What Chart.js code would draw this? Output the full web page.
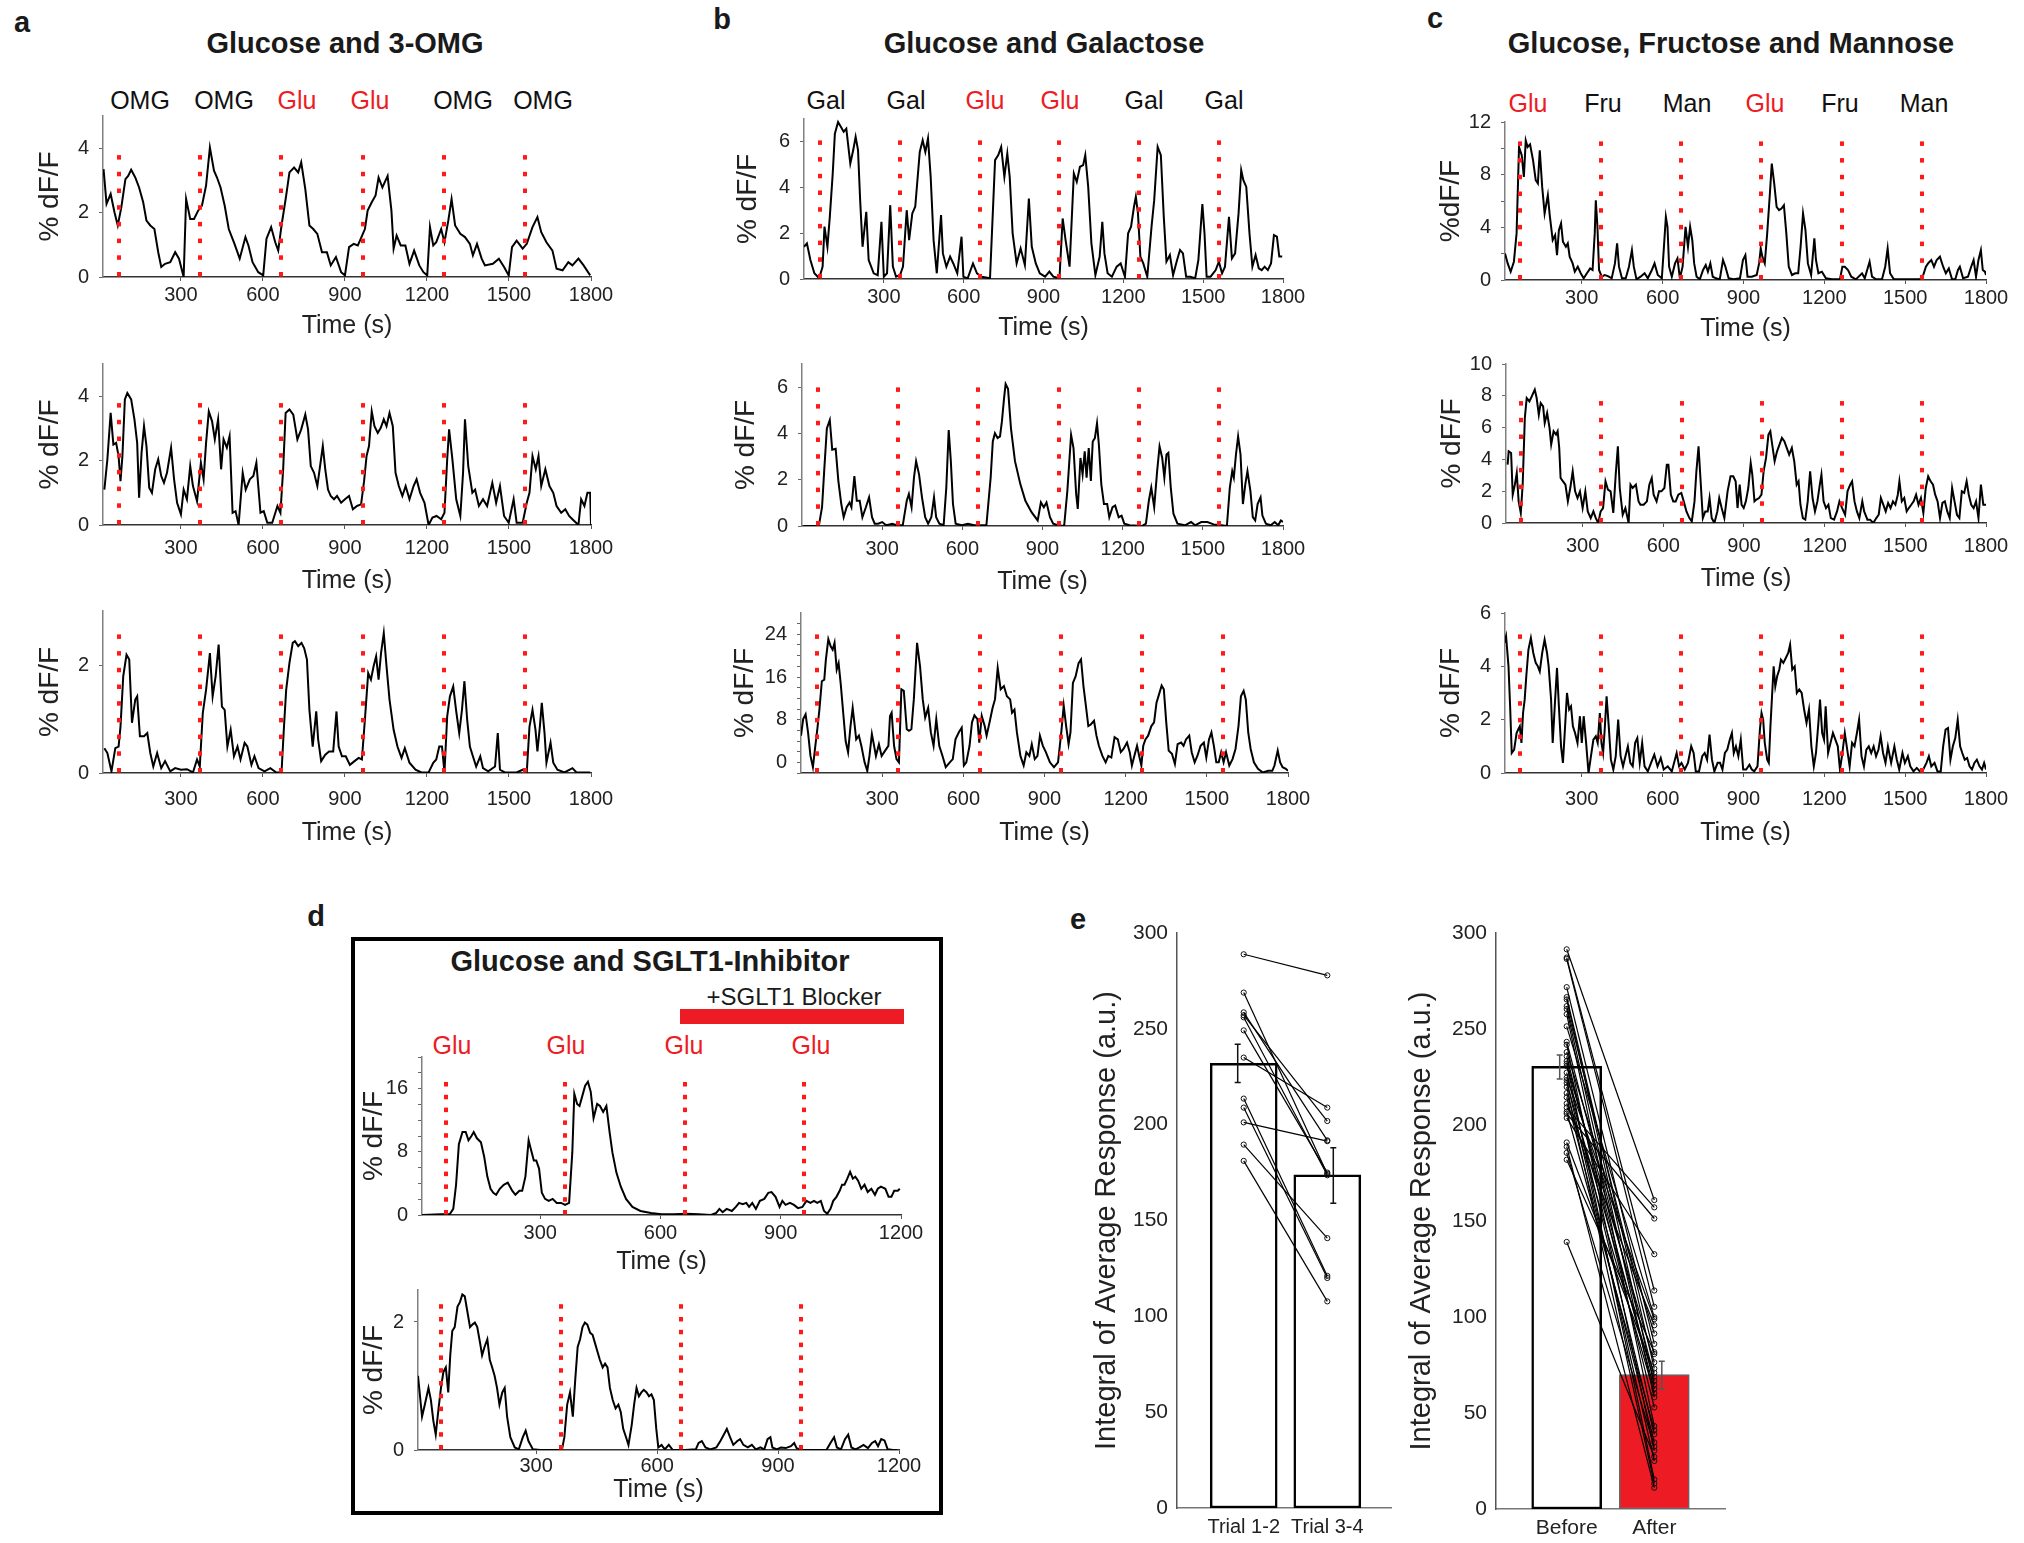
<!DOCTYPE html>
<html>
<head>
<meta charset="utf-8">
<title>Sugar responses</title>
<script src="https://cdn.jsdelivr.net/npm/chart.js@4.4.0/dist/chart.umd.min.js"></script>
<style>
  html, body { margin: 0; padding: 0; background: #fff; }
  body { position: relative; width: 2024px; height: 1543px; overflow: hidden;
         font-family: 'Liberation Sans', Arial, Helvetica, sans-serif; color: #1a1a1a; }
  canvas { position: absolute; }
  .txt { position: absolute; transform: translate(-50%, -50%); white-space: nowrap; line-height: 1; }
  .frame { position: absolute; border: 4px solid #000; box-sizing: border-box; }
  .blocker { position: absolute; background: #ed1c24; }
</style>
</head>
<body>
<div class="frame" style="left:351px;top:937px;width:592px;height:578px"></div>
<div class="blocker" style="left:680px;top:1009px;width:224px;height:15px"></div>
<script>
// ---------- data ----------
const aStim = [72, 370, 667, 965, 1262, 1560];
const bStim = [60, 360, 660, 960, 1260, 1560];
const cStim = [72, 370, 668, 966, 1264, 1562];
const dStim = [64, 362, 660, 958];
const aStimLabels = ['OMG', 'OMG', 'Glu', 'Glu', 'OMG', 'OMG'];
const bStimLabels = ['Gal', 'Gal', 'Glu', 'Glu', 'Gal', 'Gal'];
const cStimLabels = ['Glu', 'Fru', 'Man', 'Glu', 'Fru', 'Man'];
const dStimLabels = ['Glu', 'Glu', 'Glu', 'Glu'];
const timeTicksLong = [300, 600, 900, 1200, 1500, 1800];
const timeTicksShort = [300, 600, 900, 1200];

// traces: [time (s), % dF/F]
const traceA1 = [[17,3.35],[28,2.27],[43,2.58],[57,2.01],[69,1.6],[82,2.16],[97,3.04],[107,3.14],[118,3.33],[133,3.09],[147,2.78],[162,2.32],[174,1.75],[188,1.6],[203,1.49],[217,0.77],[228,0.31],[242,0.41],[261,0.46],[279,0.77],[293,0.57],[310,0],[319,2.42],[334,1.8],[348,1.8],[363,2.06],[377,2.22],[392,2.84],[406,4.02],[421,3.3],[432,3.09],[445,2.78],[460,2.22],[475,1.49],[496,1.03],[515,0.57],[536,1.24],[547,0.98],[562,0.46],[583,0.15],[601,0.05],[613,1.19],[630,1.55],[645,1.08],[656,0.82],[668,1.6],[685,2.53],[697,3.25],[714,3.4],[729,3.25],[740,3.56],[755,2.73],[770,1.6],[784,1.49],[799,1.34],[816,0.77],[834,0.77],[848,0.36],[867,0.62],[886,0.15],[900,0.05],[915,0.93],[932,1.03],[947,0.98],[958,1.19],[973,1.49],[983,2.06],[998,2.32],[1012,2.53],[1023,3.09],[1037,2.78],[1056,3.14],[1070,2.06],[1078,0.88],[1089,1.29],[1104,0.98],[1121,0.98],[1136,0.41],[1153,0.82],[1172,0.36],[1187,0.15],[1201,0.05],[1211,1.55],[1223,0.98],[1234,1.08],[1252,1.49],[1264,1.08],[1278,1.75],[1290,2.42],[1303,1.6],[1322,1.34],[1339,1.24],[1357,1.03],[1368,0.67],[1383,1.03],[1400,0.57],[1412,0.36],[1441,0.41],[1463,0.57],[1482,0.31],[1499,0.05],[1511,0.93],[1528,1.13],[1550,0.88],[1565,1.03],[1586,1.55],[1604,1.86],[1618,1.39],[1637,1.08],[1659,0.82],[1674,0.26],[1696,0.21],[1717,0.46],[1732,0.36],[1754,0.57],[1773,0.36],[1797,0.05]];
const traceA2 = [[20,1.1],[31,2.04],[43,3.48],[53,2.5],[63,2.55],[72,2.14],[79,1.36],[86,2.14],[95,3.9],[104,4.1],[118,3.9],[130,3.28],[140,2.55],[147,0.85],[156,2.24],[165,3.07],[174,2.45],[184,1.16],[194,1.0],[206,1.73],[217,2.04],[228,1.52],[238,1.31],[249,1.62],[264,2.4],[275,1.42],[286,0.69],[300,0.33],[310,1.1],[322,0.8],[334,1.83],[344,1.21],[359,0.74],[373,1.93],[383,1.42],[392,2.55],[402,3.53],[414,3.22],[424,2.66],[436,3.28],[447,1.73],[456,2.66],[468,2.4],[478,2.76],[489,0.38],[500,0.43],[511,0],[526,1.62],[537,1.1],[552,1.42],[565,1.52],[576,1.93],[591,0.38],[603,0.43],[616,0.07],[634,0.07],[653,0.59],[664,0.38],[674,1.73],[683,3.48],[697,3.59],[711,3.43],[726,2.66],[740,2.97],[755,3.43],[765,2.97],[775,1.83],[787,1.62],[799,1.21],[809,1.83],[819,2.45],[828,1.73],[838,1.1],[848,0.9],[860,0.8],[871,0.9],[886,0.69],[900,0.8],[915,0.9],[929,0.49],[944,0.59],[959,0.64],[970,1.36],[979,2.14],[988,2.45],[998,3.53],[1008,3.07],[1020,2.86],[1031,3.02],[1042,3.28],[1052,3.07],[1063,3.48],[1075,3.07],[1085,1.62],[1097,1.21],[1110,0.9],[1122,1.21],[1136,0.8],[1151,1.21],[1162,1.42],[1175,1.0],[1191,0.69],[1206,0],[1220,0.23],[1235,0.28],[1252,0.18],[1264,0.38],[1274,2.04],[1281,2.97],[1293,2.04],[1307,0.8],[1322,0.28],[1332,1.62],[1339,3.28],[1351,1.83],[1366,1.0],[1376,1.1],[1390,0.59],[1405,0.8],[1420,0.59],[1439,1.31],[1453,0.69],[1467,1.21],[1482,0.28],[1499,0.07],[1517,0.8],[1528,0.07],[1550,0.07],[1565,0.69],[1575,1.0],[1586,2.14],[1598,1.73],[1608,2.14],[1618,1.21],[1633,1.73],[1648,1.21],[1662,1.0],[1674,0.59],[1691,0.38],[1706,0.49],[1720,0.28],[1732,0.18],[1754,0],[1764,0.8],[1776,0.59],[1787,1.0],[1797,1.0],[1800,0]];
const traceA3 = [[20,0.46],[31,0.37],[46,0.03],[60,0.46],[72,0.49],[79,0.86],[89,1.79],[101,2.19],[111,2.1],[121,0.93],[133,1.36],[140,1.42],[150,0.68],[165,0.68],[177,0.74],[188,0.37],[199,0.12],[213,0.37],[228,0.09],[242,0.22],[261,0.03],[279,0.09],[300,0.06],[322,0.07],[344,0.01],[359,0.25],[369,0.12],[380,1.11],[392,1.54],[406,2.22],[416,1.42],[427,1.79],[438,2.38],[450,1.23],[460,1.17],[470,0.49],[482,0.8],[494,0.31],[507,0.49],[518,0.25],[533,0.56],[543,0.49],[558,0.15],[569,0.31],[584,0.09],[606,0.03],[627,0.09],[649,0.01],[668,0.01],[677,0.86],[685,1.54],[697,2.04],[709,2.41],[717,2.44],[729,2.35],[741,2.41],[751,2.31],[761,2.1],[770,1.17],[782,0.49],[795,1.14],[802,0.62],[813,0.22],[828,0.34],[842,0.4],[857,0.4],[869,1.14],[877,0.49],[889,0.31],[903,0.31],[918,0.15],[935,0.22],[950,0.28],[962,0.25],[973,0.99],[985,1.85],[995,1.73],[1005,1.98],[1014,2.16],[1023,1.73],[1032,2.22],[1042,2.59],[1052,1.98],[1063,1.36],[1078,0.8],[1092,0.49],[1107,0.28],[1119,0.46],[1136,0.19],[1158,0.06],[1180,0.01],[1206,0.01],[1223,0.19],[1234,0.25],[1245,0.49],[1255,0.49],[1264,0.01],[1274,1.05],[1284,1.42],[1296,1.6],[1307,1.14],[1318,0.74],[1328,1.17],[1337,1.7],[1347,0.99],[1357,0.49],[1368,0.31],[1380,0.12],[1395,0.31],[1405,0.09],[1424,0.03],[1449,0.12],[1459,0.74],[1467,0.06],[1485,0.01],[1528,0.01],[1550,0.06],[1565,0.01],[1575,0.86],[1586,1.17],[1597,0.8],[1604,0.4],[1613,0.86],[1620,1.3],[1630,0.74],[1637,0.19],[1652,0.56],[1662,0.19],[1677,0.06],[1703,0.01],[1732,0.09],[1747,0.01],[1797,0.01]];
const traceB1 = [[0,1.41],[11,1.56],[24,0.83],[39,0.25],[57,0.03],[70,0.54],[77,2.29],[88,1.41],[97,2.72],[108,4.62],[116,6.36],[128,6.87],[139,6.65],[149,6.44],[159,6.58],[174,5.05],[185,5.64],[194,6.22],[203,5.64],[211,3.45],[220,1.41],[234,2.94],[243,0.83],[262,0.25],[277,0.17],[291,2.5],[300,0.1],[312,0.25],[324,3.23],[334,0.54],[346,0.1],[361,0.17],[372,0.54],[386,3.01],[395,1.7],[407,2.87],[418,3.16],[435,5.56],[446,6.07],[456,5.56],[466,6.15],[476,4.47],[487,1.7],[499,0.25],[515,2.8],[522,1.12],[535,0.54],[549,0.98],[561,0.68],[576,0.25],[592,1.85],[599,0.1],[615,0.03],[635,0.68],[650,0.25],[668,0.1],[699,0.03],[718,5.2],[730,5.42],[741,5.78],[753,4.47],[764,5.49],[773,4.47],[784,2.0],[799,0.68],[814,1.34],[830,0.61],[845,3.52],[856,1.41],[871,0.68],[886,0.25],[906,0.1],[922,0.32],[937,0.1],[960,0.03],[972,2.65],[983,1.7],[998,0.54],[1014,4.62],[1025,4.25],[1037,4.91],[1049,4.98],[1057,5.42],[1068,4.03],[1080,1.56],[1095,0.17],[1111,0.98],[1121,2.5],[1129,1.12],[1141,0.25],[1157,0.1],[1175,0.54],[1190,0.68],[1206,0.1],[1218,2.0],[1229,2.29],[1240,3.16],[1247,3.6],[1255,2.87],[1264,0.98],[1275,0.68],[1290,0.1],[1306,2.29],[1316,3.45],[1329,5.78],[1341,5.42],[1352,2.72],[1362,0.76],[1375,1.05],[1387,0.17],[1402,0.83],[1413,1.27],[1424,1.12],[1436,0.1],[1451,0.1],[1470,0.03],[1482,0.83],[1497,3.28],[1505,2.0],[1513,0.1],[1528,0.1],[1547,0.39],[1559,0.76],[1571,0.25],[1582,0.54],[1597,2.72],[1608,0.9],[1620,1.12],[1633,2.87],[1643,4.76],[1651,4.32],[1662,4.03],[1674,2.0],[1685,0.54],[1697,1.05],[1709,0.47],[1720,0.39],[1731,0.54],[1743,0.39],[1755,0.68],[1766,1.92],[1777,1.85],[1786,0.98],[1797,0.98]];
const traceB2 = [[6,0],[63,0],[75,0.81],[83,2.37],[93,4.22],[104,4.58],[113,3.3],[126,3.34],[136,1.95],[147,0.95],[156,0.38],[167,0.81],[178,1.02],[185,0.81],[196,2.16],[205,1.09],[216,1.09],[226,0.38],[239,0.81],[251,1.24],[262,0.38],[272,0.1],[285,0.1],[300,0.17],[315,0.03],[338,0.1],[354,0.03],[377,0.03],[392,1.09],[400,1.38],[410,0.81],[419,2.09],[427,2.8],[438,2.23],[449,1.24],[461,0.38],[472,0.1],[484,0.38],[494,1.24],[502,0.38],[514,0.1],[530,0.03],[540,1.66],[549,4.15],[557,2.8],[565,0.95],[575,0.1],[598,0.03],[621,0.1],[644,0.03],[690,0.03],[706,2.09],[714,3.65],[722,4.01],[732,3.8],[741,3.87],[748,4.51],[756,5.5],[762,6.14],[771,5.93],[782,4.22],[797,2.8],[817,1.81],[836,1.09],[859,0.6],[882,0.24],[894,1.02],[905,0.81],[915,1.02],[928,0.38],[940,0.1],[958,0.03],[981,0],[993,1.52],[1007,3.94],[1016,3.37],[1026,1.38],[1032,0.74],[1042,2.94],[1050,2.23],[1058,3.23],[1065,2.09],[1073,3.37],[1081,1.95],[1088,3.65],[1096,3.8],[1104,4.44],[1111,3.51],[1120,1.81],[1130,0.95],[1142,0.95],[1150,0.38],[1162,0.81],[1172,0.88],[1185,0.38],[1196,0.45],[1206,0.1],[1226,0.03],[1272,0],[1287,0.1],[1298,1.09],[1307,1.66],[1318,0.81],[1329,2.37],[1338,3.44],[1348,2.94],[1356,2.09],[1364,3.09],[1371,3.16],[1380,1.66],[1390,0.53],[1405,0.1],[1433,0.03],[1456,0.17],[1471,0.03],[1494,0.17],[1517,0.17],[1540,0.07],[1570,0.03],[1590,0],[1601,1.66],[1610,2.37],[1616,2.09],[1624,3.09],[1632,3.87],[1641,3.09],[1650,0.95],[1659,1.81],[1667,2.37],[1678,1.52],[1687,0.38],[1696,0.24],[1705,0.95],[1716,1.24],[1723,0.45],[1736,0.1],[1754,0.03],[1769,0.17],[1782,0.03],[1792,0.24],[1800,0.17]];
const traceB3 = [[0,5],[8,8.1],[17,9],[26,5.6],[35,1.2],[44,-0.9],[53,3.1],[61,6.5],[68,9.9],[77,15.2],[86,15.5],[92,19.3],[101,23.1],[110,21.7],[117,21.1],[124,22.4],[132,17.4],[139,18.6],[147,14.6],[156,9.3],[165,4],[174,1.9],[183,6.8],[191,10.2],[198,7.1],[204,4.3],[214,5],[223,3.1],[235,0],[245,-1.6],[253,1.2],[262,5.3],[268,3.7],[277,1.2],[288,3.4],[298,1.2],[311,2.2],[323,3.1],[329,8.7],[335,9.3],[344,3.1],[353,0.6],[362,0],[371,13.7],[380,13.4],[391,6.2],[399,5.9],[408,6.2],[417,11.8],[429,22.4],[440,18],[450,11.8],[459,8.4],[470,10.2],[480,5.6],[490,3.1],[500,8.1],[511,3.1],[523,1.2],[535,-0.9],[550,0],[561,0.6],[571,4.3],[583,5.6],[594,6.5],[602,-0.6],[611,0],[623,3.1],[632,7.5],[641,8.8],[652,8.1],[659,3.7],[668,8.7],[679,6.8],[686,5],[697,7.5],[708,10.2],[717,11.8],[727,17.7],[738,13.7],[750,14.3],[761,12.4],[773,11.8],[780,9.3],[789,9.9],[798,5.6],[811,1.2],[823,-0.6],[833,1.9],[844,1.2],[853,3.4],[864,0.6],[874,1.2],[883,5],[894,3.1],[905,1.9],[920,0],[935,-0.9],[950,0],[962,5.6],[971,10.6],[980,6.8],[989,3.4],[996,5.6],[1005,14.9],[1015,16.1],[1026,18.6],[1035,19.3],[1044,14.3],[1053,10.6],[1062,6.8],[1071,7.1],[1083,7.8],[1092,5],[1101,3.1],[1114,1.2],[1126,0],[1136,1.2],[1147,0.9],[1159,4.7],[1171,4.3],[1182,1.9],[1192,2.5],[1205,3.7],[1215,1.9],[1223,-0.6],[1232,1.2],[1242,3.1],[1250,1.2],[1258,-0.6],[1265,3.1],[1273,4.3],[1283,5],[1295,6.8],[1305,7.5],[1314,11.2],[1323,12.7],[1333,14.4],[1341,13.7],[1350,7.5],[1359,2.2],[1371,1.6],[1382,-0.3],[1392,3.4],[1405,3.7],[1414,3.1],[1423,4.3],[1435,5],[1444,1.9],[1455,0],[1465,1.2],[1477,3.1],[1489,3.7],[1498,0.9],[1508,4.3],[1517,5.6],[1526,3.1],[1535,0],[1544,0],[1553,1.9],[1562,0],[1571,1.9],[1583,-0.6],[1595,0.6],[1606,2.5],[1617,6.8],[1626,12.4],[1636,13.4],[1644,11.8],[1653,5.6],[1662,2.5],[1674,0],[1689,-1.2],[1707,-1.9],[1727,-1.6],[1742,-1.6],[1750,-0.6],[1762,2.2],[1771,0],[1780,-0.9],[1792,-1.2],[1800,-1.6]];
const traceC1 = [[15,2.02],[25,1.26],[36,0.63],[48,1.39],[58,3.54],[67,10.1],[77,9.47],[85,7.83],[92,10.6],[99,10.1],[108,10.3],[119,9.1],[129,7.58],[137,7.33],[144,9.85],[153,7.07],[162,5.05],[174,6.44],[181,4.93],[192,3.03],[201,3.41],[208,1.89],[215,3.79],[223,4.3],[230,2.91],[241,2.53],[248,2.78],[255,1.77],[266,1.26],[274,0.63],[285,1.01],[296,0.51],[307,0.13],[319,0.51],[331,0.88],[340,0.76],[348,3.54],[352,6.06],[358,4.04],[364,0.76],[374,0.25],[385,0.38],[397,0.3],[411,0.13],[423,1.26],[431,2.78],[438,1.01],[449,0.13],[463,0.13],[475,1.01],[486,2.27],[493,1.01],[503,0.05],[518,0.25],[533,0.51],[545,0.13],[560,0.76],[570,1.26],[582,0.38],[597,0.13],[604,2.27],[612,4.8],[618,4.04],[624,1.01],[634,0.25],[646,1.26],[655,1.64],[664,0.13],[674,1.01],[685,4.04],[694,2.53],[702,4.04],[710,3.03],[717,1.26],[726,0.25],[738,0.05],[750,0.76],[760,1.14],[768,0.63],[777,1.26],[786,0.25],[798,0.13],[812,0.05],[824,1.52],[833,1.01],[845,0.13],[864,0.05],[887,0.13],[898,1.52],[907,1.89],[915,0.25],[931,0.25],[949,0.38],[958,1.26],[964,2.4],[970,1.77],[979,1.26],[988,3.54],[998,6.57],[1005,8.84],[1014,7.33],[1023,5.56],[1032,5.31],[1041,5.43],[1050,5.68],[1059,3.54],[1068,1.01],[1080,0.38],[1092,0.51],[1103,0.51],[1112,2.53],[1121,5.05],[1130,3.79],[1139,1.26],[1151,0.38],[1163,3.16],[1169,1.52],[1178,0.51],[1191,0.63],[1206,0.13],[1228,0.05],[1258,0.05],[1267,1.01],[1276,1.01],[1288,0.76],[1300,0.25],[1317,0.05],[1340,0.51],[1350,0.13],[1359,0.76],[1368,1.39],[1377,0.25],[1392,0.05],[1414,0.05],[1426,1.01],[1435,2.4],[1444,0.51],[1458,0.05],[1503,0.05],[1555,0.05],[1567,0.38],[1577,1.01],[1585,1.26],[1597,1.52],[1607,1.01],[1617,1.52],[1629,1.77],[1641,1.01],[1651,0.51],[1662,0.88],[1674,0.05],[1686,0.05],[1696,0.76],[1703,1.01],[1715,0.13],[1733,0.25],[1745,1.01],[1754,1.52],[1763,0.25],[1772,1.52],[1781,2.27],[1788,0.76],[1796,0.63],[1800,0.38]];
const traceC2 = [[21,3.67],[25,4.51],[34,4.4],[40,1.78],[48,2.41],[55,3.14],[62,1.36],[70,0.63],[77,2.41],[85,6.6],[92,7.86],[102,7.65],[111,7.97],[122,8.39],[129,7.86],[137,6.81],[144,7.55],[153,7.34],[159,6.29],[168,6.92],[177,5.97],[183,4.93],[192,5.77],[201,5.56],[207,5.77],[213,4.72],[218,2.83],[227,2.62],[236,2.41],[245,1.36],[254,2.2],[263,3.25],[272,1.99],[281,1.57],[290,1.99],[300,0.94],[310,1.99],[319,0.73],[330,0.31],[340,0.73],[349,0.31],[358,0],[367,0.73],[376,0.94],[385,2.62],[394,2.1],[404,1.99],[414,0.63],[423,3.04],[431,4.82],[438,2.2],[449,0.52],[459,0.94],[471,0],[478,2.41],[486,2.2],[498,2.41],[508,1.36],[515,1.15],[527,1.15],[539,1.36],[548,2.41],[557,2.83],[564,1.78],[575,1.36],[584,1.99],[593,1.99],[604,2.2],[613,3.67],[619,3.67],[628,1.78],[637,1.36],[646,1.36],[656,1.78],[667,1.89],[676,1.36],[686,0.73],[697,0.31],[706,0.1],[716,1.36],[723,3.25],[731,4.82],[738,2.83],[747,0.31],[756,0.73],[765,0.73],[772,1.57],[780,0.31],[790,0],[801,0.73],[808,1.57],[817,0.94],[827,0.31],[839,1.99],[850,2.94],[860,2.94],[869,2.62],[876,0.94],[884,2.41],[891,1.15],[899,0.94],[907,1.36],[916,2.2],[925,3.77],[931,3.04],[939,1.36],[946,1.47],[956,1.57],[965,1.78],[973,3.25],[982,4.09],[991,5.56],[998,5.77],[1005,4.93],[1014,3.88],[1023,4.51],[1032,4.93],[1041,5.35],[1050,5.14],[1059,4.72],[1068,4.3],[1078,4.72],[1087,3.88],[1096,2.41],[1103,2.62],[1110,1.15],[1119,0.31],[1128,0.21],[1137,1.36],[1146,3.25],[1155,1.57],[1164,0.73],[1173,1.36],[1182,2.41],[1188,3.04],[1196,1.36],[1205,0.94],[1214,1.15],[1223,0.31],[1235,0.21],[1246,0.73],[1255,1.36],[1265,0.94],[1276,0.52],[1285,1.99],[1295,2.41],[1302,2.62],[1311,1.36],[1320,0.73],[1329,0.31],[1340,1.36],[1347,0.73],[1359,0.21],[1369,0.21],[1381,0],[1392,0.31],[1401,0.52],[1409,1.57],[1418,1.15],[1427,0.73],[1436,1.26],[1445,0.94],[1454,1.36],[1463,1.15],[1472,1.78],[1478,2.62],[1487,1.36],[1496,1.57],[1505,0.73],[1513,0.94],[1522,1.15],[1531,1.36],[1540,1.78],[1549,1.15],[1558,1.57],[1567,0.63],[1576,2.2],[1585,2.94],[1594,2.62],[1603,2.41],[1611,1.78],[1620,1.36],[1629,0.31],[1638,1.26],[1647,1.36],[1656,0.73],[1665,0.31],[1674,2.2],[1683,1.36],[1692,0.52],[1701,0.31],[1710,1.99],[1719,1.89],[1728,2.62],[1736,1.78],[1745,1.15],[1754,0.94],[1763,1.36],[1772,0.31],[1781,2.41],[1790,1.15],[1800,1.15]];
const traceC3 = [[13,4.88],[19,5.13],[28,4],[34,2.5],[40,0.75],[49,0.88],[58,1.5],[64,1.63],[70,1.75],[76,1.13],[82,2.25],[88,2.75],[94,3.63],[102,4.63],[111,5.06],[120,4.5],[129,4.13],[137,4],[144,3.81],[153,4.5],[162,5],[171,4.5],[177,4],[186,2.75],[192,1.13],[201,2.75],[208,3.94],[215,2.5],[223,1],[230,0.38],[238,1.75],[245,3],[253,2.38],[260,2.5],[267,1.75],[275,1.5],[284,1.13],[293,2.13],[300,1.13],[307,2.13],[316,1.13],[325,0],[334,0.63],[343,1.25],[352,1.38],[359,1.13],[367,2.25],[373,1.13],[379,0.75],[385,1.63],[392,2.88],[400,1.75],[408,0.5],[417,0.13],[426,0.63],[435,2],[444,0.63],[453,0.25],[462,0.63],[471,1],[480,0.38],[489,0.25],[498,1.13],[506,1.31],[515,0.38],[524,1.13],[533,0.25],[545,0.06],[557,0.38],[569,0.69],[581,0.25],[593,0.56],[604,0.13],[619,0.25],[634,0.06],[652,0.75],[661,0.25],[670,0.38],[682,0.13],[694,0.38],[706,1],[715,0.75],[723,0.06],[735,0.06],[747,0.63],[756,0.75],[765,0.5],[774,1.44],[783,0.5],[792,0.06],[804,0.38],[813,0.38],[822,0.13],[831,0.75],[840,0.88],[849,1.25],[857,1.5],[864,0.75],[872,1],[881,0.63],[890,1.25],[899,0.13],[910,0.13],[922,0.31],[931,0.13],[940,0.06],[952,0.25],[961,1.63],[967,2.25],[973,2],[979,1.13],[988,0.5],[994,0.38],[1000,1.75],[1006,2.88],[1012,4],[1018,3.25],[1025,3.63],[1033,3.88],[1039,4.25],[1048,4.13],[1057,4.31],[1066,4.5],[1073,4.81],[1081,3.88],[1090,4],[1098,3],[1107,3.13],[1116,3],[1125,2.38],[1134,1.88],[1143,2.38],[1152,1],[1161,0.25],[1169,0.75],[1178,1.88],[1184,2.75],[1192,1.5],[1199,1.25],[1205,2.5],[1214,0.75],[1223,1.13],[1232,1.5],[1241,1.25],[1250,1],[1258,0.13],[1267,0.75],[1276,1.5],[1285,0.88],[1294,0.25],[1303,1.13],[1312,1],[1321,1.5],[1329,2],[1338,0.63],[1347,0.25],[1356,0.88],[1365,1],[1374,0.75],[1383,1],[1392,0.63],[1401,0.88],[1409,1.38],[1418,0.75],[1427,0.38],[1436,1],[1448,0.38],[1460,1],[1469,0.5],[1478,0.13],[1490,0.75],[1499,0.38],[1510,0.63],[1519,0.25],[1531,0.06],[1543,0.19],[1555,0.06],[1567,0.13],[1579,0.38],[1588,0.63],[1597,0.25],[1609,0.38],[1620,0.06],[1632,0.06],[1641,1],[1650,1.63],[1659,1.69],[1668,0.5],[1677,1],[1686,1.31],[1695,2],[1704,1],[1712,0.75],[1721,0.5],[1730,0.56],[1739,0.25],[1748,0.13],[1757,0.38],[1766,0.5],[1776,0.25],[1785,0.13],[1793,0.38],[1800,0.13]];
const traceD1 = [[5,0],[53,0.1],[74,0.1],[83,0.77],[90,3.83],[97,8.95],[106,10.5],[114,10.5],[121,9.46],[128,9.97],[134,10.5],[142,9.71],[152,9.2],[160,7.41],[168,4.86],[176,3.32],[183,2.81],[190,2.56],[199,3.32],[209,3.83],[219,4.09],[230,3.07],[238,2.56],[248,3.07],[255,3.07],[263,4.86],[271,9.46],[276,8.44],[284,6.9],[290,6.9],[297,5.88],[304,2.81],[312,2.04],[321,1.79],[331,2.04],[341,1.53],[352,1.53],[362,1.28],[372,1.53],[380,7.92],[385,15.34],[392,14.06],[398,13.8],[405,15.08],[412,16.36],[419,16.87],[426,15.59],[433,12.27],[442,14.06],[449,13.8],[457,13.04],[465,13.8],[473,10.48],[480,7.92],[490,5.37],[501,3.58],[514,2.04],[530,1.02],[550,0.51],[576,0.26],[602,0.1],[633,0.1],[664,0.15],[695,0.1],[726,0],[739,0.26],[747,0.77],[755,0.36],[765,0.77],[778,0.51],[788,1.02],[796,1.53],[805,1.38],[814,1.53],[821,1.02],[829,1.53],[838,0.77],[848,1.79],[859,2.04],[869,2.81],[877,2.91],[887,2.3],[897,1.02],[904,1.79],[912,1.28],[923,1.53],[933,1.28],[943,0.87],[954,1.02],[964,1.79],[974,1.53],[983,1.79],[991,1.53],[1000,1.79],[1008,0.51],[1016,0.15],[1024,0.77],[1031,1.79],[1039,2.3],[1047,3.07],[1053,3.83],[1059,3.83],[1066,4.6],[1073,5.47],[1080,4.6],[1086,4.86],[1093,4.35],[1101,3.32],[1109,3.83],[1117,2.91],[1126,3.32],[1135,2.56],[1142,3.32],[1150,3.58],[1161,3.32],[1169,2.3],[1176,2.3],[1183,3.07],[1192,3.07],[1197,3.32]];
const traceD2 = [[7,1.16],[12,0.84],[17,0.52],[24,0.71],[33,0.97],[39,0.78],[45,0.46],[51,0.24],[58,0.65],[64,0.97],[70,1.22],[76,1.29],[82,0.9],[87,1.48],[92,1.86],[98,1.92],[105,2.24],[111,2.31],[117,2.43],[123,2.4],[129,2.18],[136,1.92],[142,1.96],[148,1.99],[154,1.92],[161,1.67],[166,1.48],[172,1.61],[179,1.73],[185,1.41],[191,1.29],[197,1.16],[203,0.97],[209,0.71],[216,0.9],[222,0.97],[228,0.52],[236,0.2],[247,0.04],[257,0.01],[267,0.2],[274,0.3],[281,0.14],[292,0.01],[310,0],[341,0],[364,0],[370,0.2],[377,0.71],[384,0.9],[391,0.52],[397,1.1],[403,1.61],[409,1.73],[415,1.92],[421,1.99],[427,1.96],[434,1.83],[440,1.8],[446,1.67],[452,1.54],[458,1.41],[465,1.29],[471,1.35],[477,1.29],[483,0.97],[490,0.78],[497,0.65],[504,0.71],[510,0.59],[516,0.33],[523,0.2],[529,0.08],[537,0.39],[543,0.71],[549,0.97],[555,0.84],[561,0.9],[567,0.94],[574,0.9],[580,0.84],[586,0.87],[592,0.78],[598,0.33],[603,0.04],[611,0.08],[619,0.01],[629,0.08],[639,0],[670,0],[696,0.01],[703,0.11],[711,0.14],[720,0.04],[732,0.01],[747,0.04],[757,0.14],[768,0.27],[773,0.33],[781,0.2],[789,0.08],[799,0.14],[806,0.17],[814,0.08],[825,0.04],[835,0.08],[845,0.01],[856,0.04],[866,0.01],[874,0.17],[881,0.2],[886,0.04],[897,0.01],[907,0.04],[919,0.03],[932,0.06],[940,0.11],[946,0.03],[958,0],[999,0],[1020,0],[1030,0.11],[1039,0.2],[1046,0.04],[1056,0.01],[1066,0.17],[1074,0.24],[1082,0.04],[1092,0.01],[1102,0.04],[1112,0.08],[1123,0.03],[1133,0.11],[1141,0.14],[1148,0.06],[1156,0.17],[1164,0.15],[1172,0.01],[1185,0],[1195,0]];

// panel e: integral of average response (a.u.)
const trialLabels = ['Trial 1-2', 'Trial 3-4'];
const trial12 = [288.9, 268.9, 258.6, 257.1, 256, 249.2, 235, 213.6, 208.9, 201.2, 189.6, 181.1];
const trial34 = [277.9, 174.3, 191.8, 201.9, 173.6, 175, 208.9, 121.1, 120, 191.4, 140.8, 107.8];
const trialMean = [232, 173.8];
const trialErrLow = [222, 159];
const trialErrHigh = [242, 188];
const blockLabels = ['Before', 'After'];
const before = [291.5, 287.2, 286.5, 271.8, 266.6, 265.4, 261.9, 260.4, 257.7, 251.4, 243.3, 241.8, 238, 235.8, 233.3, 232, 230.7, 227.3, 224.7, 223.4, 221.9, 219.8, 216.6, 214.4, 211.2, 209.1, 206.9, 205.9, 203.7, 190.9, 188.7, 185.5, 181.9, 139.1];
const after = [160.9, 113.8, 105.3, 86, 73.2, 64.6, 80.7, 58.2, 43.2, 99.9, 68.9, 30.4, 91.4, 52.9, 62.5, 15.4, 76.4, 38.9, 98.9, 25, 66.8, 13.3, 60.3, 34.7, 95.7, 157.1, 41.1, 151.3, 132.7, 71, 11.1, 32.5, 81.7, 27.2];
const blockMean = [230.5, 70];
const blockErrLow = [224, 62.5];
const blockErrHigh = [236.5, 77];

// ---------- helpers ----------
Chart.defaults.font.family = "'Liberation Sans', Arial, Helvetica, sans-serif";
Chart.defaults.color = '#222';
const RED = '#ed1c24';
const Y_TITLE_SIZE = 28, X_TITLE_SIZE = 25;

const addText = (text, x, y, size, opts = {}) => {
    const el = document.createElement('div');
    el.className = 'txt';
    el.textContent = text;
    el.style.left = x + 'px';
    el.style.top = y + 'px';
    el.style.fontSize = size + 'px';
    if (opts.bold) el.style.fontWeight = 'bold';
    if (opts.color) el.style.color = opts.color;
    document.body.appendChild(el);
};

const addCanvas = (left, top, w, h) => {
    const c = document.createElement('canvas');
    c.width = w;
    c.height = h;
    c.style.left = left + 'px';
    c.style.top = top + 'px';
    c.style.width = w + 'px';
    c.style.height = h + 'px';
    document.body.appendChild(c);
    return c;
};

// red dotted stimulus markers, square dots stacked up from the time axis
const stimPlugin = (times, top, step) => ({
    id: 'stimLines',
    afterDatasetsDraw(chart) {
        const { ctx, chartArea, scales } = chart;
        const yTop = scales.y.getPixelForValue(top);
        ctx.save();
        ctx.fillStyle = '#ff1a1a';
        times.forEach(t => {
            const px = Math.round(scales.x.getPixelForValue(t));
            for (let yy = chartArea.bottom - 5; yy >= yTop - 1; yy -= step) {
                ctx.fillRect(px - 2, yy, 4, 4.5);
            }
        });
        ctx.restore();
    }
});

function traceChart(o) {
    const yw = Math.round(o.yTitleGap + Y_TITLE_SIZE * 0.6);
    const xh = Math.round(o.titleGap + X_TITLE_SIZE * 0.6);
    // room for the scales' own label padding so the plot area lands exactly on o.plot
    const padTop = 26, padRight = 42;
    const [l, t, r, b] = o.plot;
    const c = addCanvas(l - yw, t - padTop, yw + (r - l) + padRight, padTop + (b - t) + xh);
    new Chart(c, {
        type: 'line',
        data: {
            datasets: [{
                data: o.data.map(p => ({ x: p[0], y: p[1] })),
                borderColor: '#000',
                borderWidth: 2,
                pointRadius: 0,
                tension: 0,
                fill: false
            }]
        },
        options: {
            responsive: false,
            animation: false,
            events: [],
            layout: { padding: { top: padTop, right: padRight, left: 0, bottom: 0 } },
            plugins: { legend: { display: false }, tooltip: { enabled: false } },
            scales: {
                x: {
                    type: 'linear', min: o.x[0], max: o.x[1], offset: false,
                    afterBuildTicks: s => { s.ticks = o.xTicks.map(v => ({ value: v })); },
                    afterFit: s => { s.height = xh; },
                    ticks: { padding: Math.max(0, o.tickGap - 16), autoSkip: false, maxRotation: 0,
                             font: { size: 20 }, color: '#222', callback: v => String(v) },
                    grid: { display: true, drawOnChartArea: false, drawTicks: true, tickLength: 4, color: '#555' },
                    border: { display: true, color: '#333', width: 1.5 },
                    title: { display: true, text: 'Time (s)', font: { size: X_TITLE_SIZE }, color: '#222', padding: 0 }
                },
                y: {
                    type: 'linear', min: o.y[0], max: o.y[1],
                    afterBuildTicks: s => { s.ticks = o.yTicks.map(v => ({ value: v })); },
                    afterFit: s => { s.width = yw; },
                    ticks: { padding: 10, autoSkip: false, font: { size: 20 }, color: '#222',
                             callback: v => (o.yLabels.includes(v) ? String(v) : '') },
                    grid: { display: true, drawOnChartArea: false, drawTicks: true, tickLength: 4, color: '#666' },
                    border: { display: true, color: '#808080', width: 1.5 },
                    title: { display: true, text: o.yTitle, font: { size: Y_TITLE_SIZE }, color: '#222', padding: 0 }
                }
            }
        },
        plugins: [stimPlugin(o.stim, o.stimTop, o.dotStep || 16.7)]
    });
}

const errPlugin = (lo, hi, shifts, color) => ({
    id: 'errBars',
    afterDatasetsDraw(chart) {
        const { ctx, scales: { x, y } } = chart;
        ctx.save();
        ctx.strokeStyle = color;
        ctx.lineWidth = 1.5;
        lo.forEach((v, i) => {
            const px = x.getPixelForValue(i + 1) + shifts[i];
            const y1 = y.getPixelForValue(v), y2 = y.getPixelForValue(hi[i]);
            ctx.beginPath();
            ctx.moveTo(px, y1); ctx.lineTo(px, y2);
            ctx.moveTo(px - 3, y1); ctx.lineTo(px + 3, y1);
            ctx.moveTo(px - 3, y2); ctx.lineTo(px + 3, y2);
            ctx.stroke();
        });
        ctx.restore();
    }
});

function pairChart(o) {
    const yw = o.yw, xh = 34, padTop = 26, padRight = 4;
    const [l, t, r, b] = o.plot;
    const c = addCanvas(l - yw, t - padTop, yw + (r - l) + padRight, padTop + (b - t) + xh);
    const datasets = [{
        type: 'bar',
        data: o.means.map((m, i) => ({ x: i + 1, y: m })),
        backgroundColor: o.fills,
        borderColor: o.edges,
        borderWidth: o.edgeWidths,
        borderSkipped: false,
        barThickness: o.barW,
        order: 2
    }];
    o.first.forEach((v, i) => datasets.push({
        type: 'line',
        data: [{ x: 1, y: v }, { x: 2, y: o.second[i] }],
        borderColor: '#000',
        borderWidth: 1.2,
        pointRadius: 2.6,
        pointBorderWidth: 1,
        pointBorderColor: '#111',
        pointBackgroundColor: 'rgba(255,255,255,0)',
        tension: 0,
        order: 1
    }));
    new Chart(c, {
        type: 'bar',
        data: { datasets },
        options: {
            responsive: false,
            animation: false,
            events: [],
            layout: { padding: { top: padTop, right: padRight, left: 0, bottom: 0 } },
            plugins: { legend: { display: false }, tooltip: { enabled: false } },
            scales: {
                x: {
                    type: 'linear', min: o.x[0], max: o.x[1], offset: false,
                    afterBuildTicks: s => { s.ticks = [{ value: 1 }, { value: 2 }]; },
                    afterFit: s => { s.height = xh; },
                    ticks: { padding: o.xPad, autoSkip: false, maxRotation: 0, font: { size: o.xFont }, color: '#222',
                             callback: v => o.labels[v - 1] },
                    grid: { display: false, drawTicks: false },
                    border: { display: true, color: '#777', width: 1.5 }
                },
                y: {
                    type: 'linear', min: 0, max: 300,
                    afterBuildTicks: s => { s.ticks = [0, 50, 100, 150, 200, 250, 300].map(v => ({ value: v })); },
                    afterFit: s => { s.width = yw; },
                    ticks: { padding: 9, font: { size: 21 }, color: '#222', callback: v => String(v) },
                    grid: { display: false, drawTicks: false },
                    border: { display: true, color: '#555', width: 1.5 },
                    title: { display: true, text: 'Integral of Average Response (a.u.)', font: { size: 29 }, color: '#222', padding: 0 }
                }
            }
        },
        plugins: [errPlugin(o.errLow, o.errHigh, o.errShift, o.errColor)]
    });
}

// ---------- text ----------
[['a', 22, 22], ['b', 722, 19], ['c', 1435, 18], ['d', 316, 916], ['e', 1078, 919]]
    .forEach(([s, x, y]) => addText(s, x, y, 29, { bold: true }));
addText('Glucose and 3-OMG', 345, 43, 29, { bold: true });
addText('Glucose and Galactose', 1044, 43, 29, { bold: true });
addText('Glucose, Fructose and Mannose', 1731, 43, 29, { bold: true });
addText('Glucose and SGLT1-Inhibitor', 650, 961, 29, { bold: true });
addText('+SGLT1 Blocker', 794, 997, 24);

const stimLabelRows = [
    { labels: aStimLabels, xs: [140, 224, 297, 370, 463, 543], y: 100 },
    { labels: bStimLabels, xs: [826, 906, 985, 1060, 1144, 1224], y: 100 },
    { labels: cStimLabels, xs: [1528, 1603, 1687, 1765, 1840, 1924], y: 103 },
    { labels: dStimLabels, xs: [452, 566, 684, 811], y: 1045 }
];
stimLabelRows.forEach(row => row.labels.forEach((s, i) =>
    addText(s, row.xs[i], row.y, 25, { color: s === 'Glu' ? RED : '#111' })));

// ---------- traces ----------
const rows = [{ tickGap: 18, titleGap: 49 }, { tickGap: 23, titleGap: 56 }, { tickGap: 26, titleGap: 60 }];
const evens = (lo, hi) => { const out = []; for (let v = lo; v <= hi; v += 2) out.push(v); return out; };

const panels = [
    { data: traceA1, plot: [103, 116, 591, 277], x: [15, 1800], y: [0, 5], yTicks: [0, 2, 4], yLabels: [0, 2, 4], stim: aStim, stimTop: 4.19, row: 0, yTitle: '% dF/F', yTitleGap: 53 },
    { data: traceA2, plot: [103, 364, 591, 525], x: [15, 1800], y: [0, 5], yTicks: [0, 2, 4], yLabels: [0, 2, 4], stim: aStim, stimTop: 4.19, row: 1, yTitle: '% dF/F', yTitleGap: 53 },
    { data: traceA3, plot: [103, 611, 591, 773], x: [15, 1800], y: [0, 3], yTicks: [0, 2], yLabels: [0, 2], stim: aStim, stimTop: 2.81, row: 2, yTitle: '% dF/F', yTitleGap: 53 },
    { data: traceB1, plot: [804, 119, 1283, 279], x: [0, 1800], y: [0, 7], yTicks: [0, 2, 4, 6], yLabels: [0, 2, 4, 6], stim: bStim, stimTop: 6.7, row: 0, yTitle: '% dF/F', yTitleGap: 56 },
    { data: traceB2, plot: [802, 364, 1283, 526], x: [0, 1800], y: [0, 7], yTicks: [0, 2, 4, 6], yLabels: [0, 2, 4, 6], stim: bStim, stimTop: 6.5, row: 1, yTitle: '% dF/F', yTitleGap: 56 },
    { data: traceB3, plot: [801, 613, 1288, 773], x: [0, 1800], y: [-2, 28], yTicks: evens(-2, 26), yLabels: [0, 8, 16, 24], stim: bStim, stimTop: 26.6, row: 2, yTitle: '% dF/F', yTitleGap: 56 },
    { data: traceC1, plot: [1505, 122, 1986, 280], x: [15, 1800], y: [0, 12], yTicks: evens(0, 12), yLabels: [0, 4, 8, 12], stim: cStim, stimTop: 11.5, row: 0, yTitle: '%dF/F', yTitleGap: 54 },
    { data: traceC2, plot: [1506, 364, 1986, 523], x: [15, 1800], y: [0, 10], yTicks: evens(0, 10), yLabels: evens(0, 10), stim: cStim, stimTop: 8.5, row: 1, yTitle: '% dF/F', yTitleGap: 54 },
    { data: traceC3, plot: [1505, 613, 1986, 773], x: [15, 1800], y: [0, 6], yTicks: evens(0, 6), yLabels: evens(0, 6), stim: cStim, stimTop: 5.72, row: 2, yTitle: '% dF/F', yTitleGap: 54 }
];
panels.forEach(p => traceChart({ ...p, xTicks: timeTicksLong, tickGap: rows[p.row].tickGap, titleGap: rows[p.row].titleGap }));

traceChart({ data: traceD1, plot: [422, 1057, 901, 1215], x: [5, 1200], y: [0, 20], yTicks: evens(0, 20), yLabels: [0, 8, 16],
    stim: dStim, stimTop: 17.7, xTicks: timeTicksShort, tickGap: 18, titleGap: 47, yTitle: '% dF/F', yTitleGap: 48, dotStep: 12.8 });
traceChart({ data: traceD2, plot: [418, 1290, 899, 1450], x: [7, 1200], y: [0, 2.5], yTicks: [0, 2], yLabels: [0, 2],
    stim: dStim, stimTop: 2.38, xTicks: timeTicksShort, tickGap: 16, titleGap: 40, yTitle: '% dF/F', yTitleGap: 44, dotStep: 12.8 });

// ---------- panel e ----------
pairChart({ plot: [1177, 933, 1392, 1508], x: [0.202, 2.762], yw: 87, first: trial12, second: trial34, means: trialMean,
    labels: trialLabels, fills: ['#fff', '#fff'], edges: ['#000', '#000'], edgeWidths: 2.5, barW: 67,
    errLow: trialErrLow, errHigh: trialErrHigh, errShift: [-6, 6], errColor: '#111', xPad: 7, xFont: 20 });
pairChart({ plot: [1496, 933, 1726, 1509], x: [0.193, 2.807], yw: 91, first: before, second: after, means: blockMean,
    labels: blockLabels, fills: ['#fff', RED], edges: ['#000', '#666'], edgeWidths: [2.5, 1.5], barW: 70,
    errLow: blockErrLow, errHigh: blockErrHigh, errShift: [-7, 7.5], errColor: '#555', xPad: 7, xFont: 21 });
</script>
</body>
</html>
